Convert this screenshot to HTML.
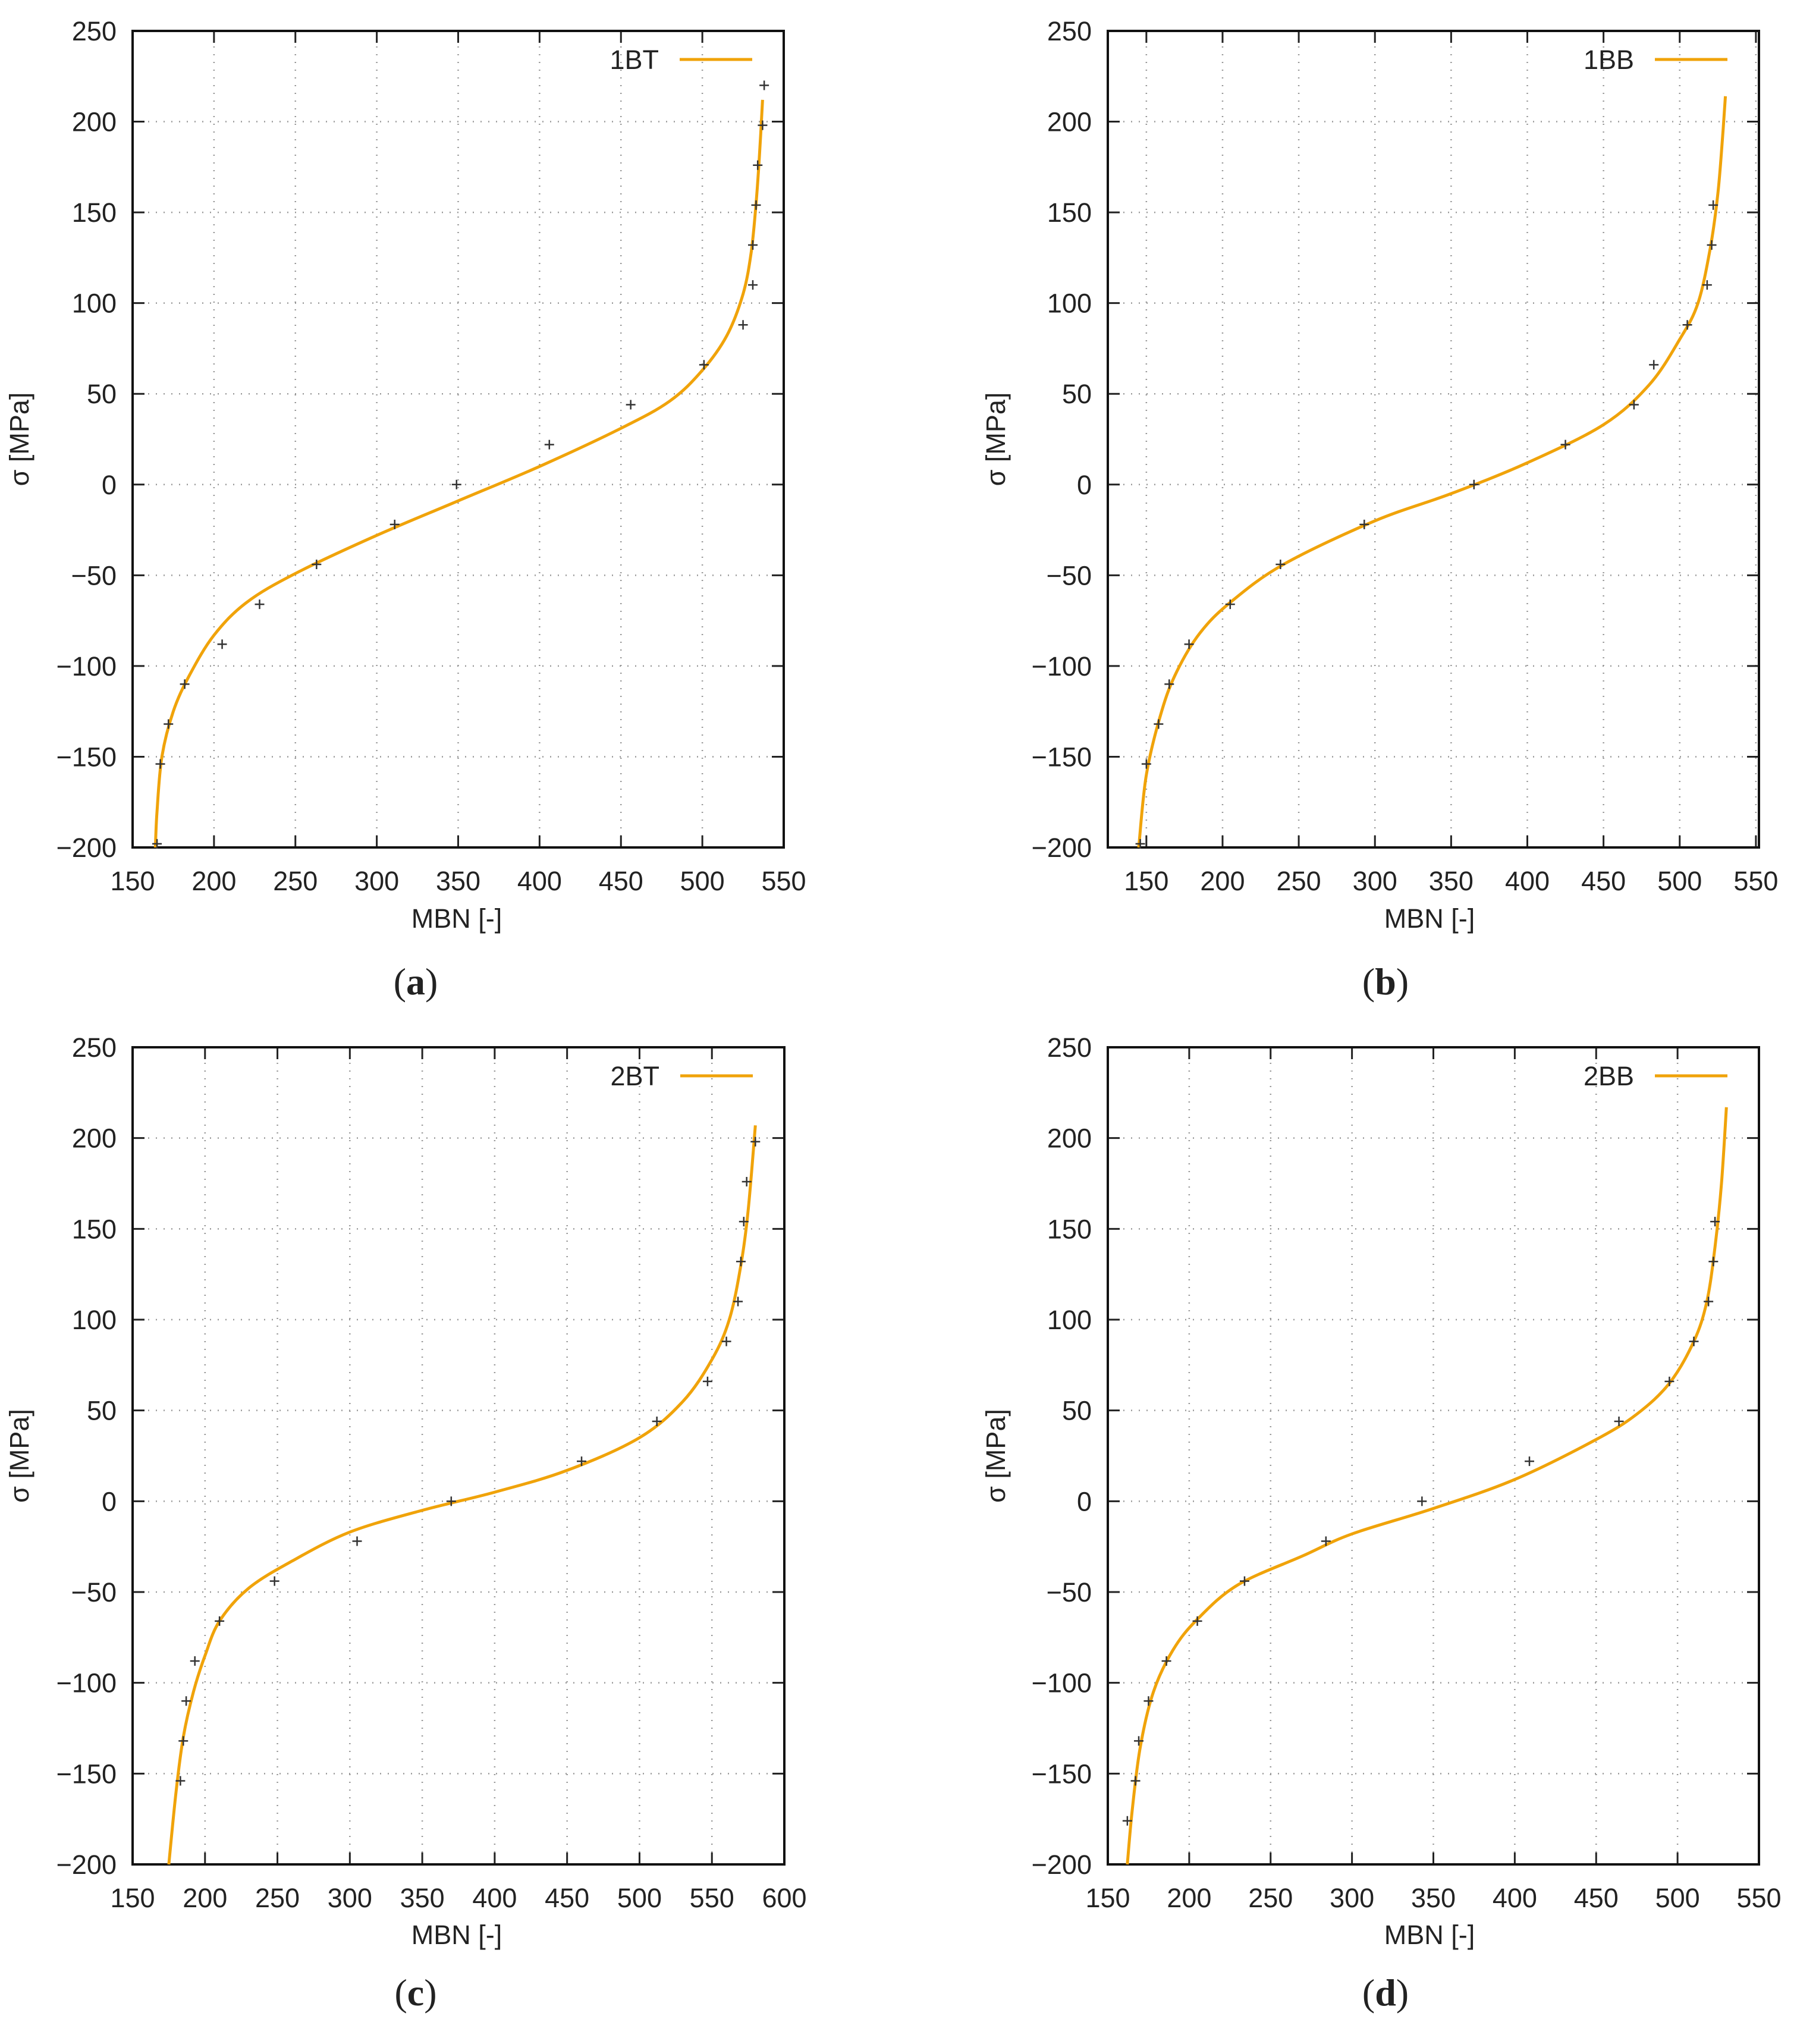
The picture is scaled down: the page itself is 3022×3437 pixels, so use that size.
<!DOCTYPE html>
<html><head><meta charset="utf-8">
<style>
html,body{margin:0;padding:0;background:#fff;}
svg{display:block;}
text{font-family:"Liberation Sans",sans-serif;fill:#222;}
</style></head>
<body>
<svg id="fig" width="3022" height="3437" viewBox="0 0 3022 3437" xmlns="http://www.w3.org/2000/svg"></svg>
<script>
const yTicks=[-200,-150,-100,-50,0,50,100,150,200,250];
const xTicksA=[150,200,250,300,350,400,450,500,550];
const xTicksB=[150,200,250,300,350,400,450,500,550];
const xTicksC=[150,200,250,300,350,400,450,500,550,600];
const xTicksD=[150,200,250,300,350,400,450,500,550];
const legendNames=["1BT","1BB","2BT","2BB"];
const panelLetters=["a","b","c","d"];

const ptsAx=[165,167,172,182,205,228,263,311,349,406,456,501,525,531,531,533,534,537,538];
const ptsAy=[-198,-154,-132,-110,-88,-66,-44,-22,0,22,44,66,88,110,132,154,176,198,220];
const fitAx=[164,165,168,175,185,200,220,250,300,350,400,450,480,500,515,525,530,533,535,537];
const fitAy=[-200,-180,-150,-125,-105,-83,-65,-49,-28,-9,10,31,46,63,82,105,128,155,180,212];

const ptsBx=[146,150,158,165,178,205,238,293,365,425,470,483,505,518,521,522];
const ptsBy=[-198,-154,-132,-110,-88,-66,-44,-22,0,22,44,66,88,110,132,154];
const fitBx=[145,150,160,170,185,205,240,300,350,400,450,480,500,512,520,525,528,530];
const fitBy=[-200,-160,-125,-103,-82,-65,-44,-20,-5,12,33,55,80,100,130,160,190,214];

const ptsCx=[183,185,187,193,210,248,305,370,460,512,547,560,568,570,572,574,580];
const ptsCy=[-154,-132,-110,-88,-66,-44,-22,0,22,44,66,88,110,132,154,176,198];
const fitCx=[175,180,185,192,200,210,230,260,300,350,400,450,500,530,550,562,570,575,580];
const fitCy=[-200,-160,-130,-105,-85,-66,-48,-33,-17,-5,5,17,35,55,78,100,130,160,207];

const ptsDx=[162,167,169,175,186,205,234,284,343,409,464,495,510,519,522,523];
const ptsDy=[-176,-154,-132,-110,-88,-66,-44,-22,0,22,44,66,88,110,132,154];
const fitDx=[162,165,170,178,190,205,230,270,300,350,400,450,475,495,510,518,523,527,530];
const fitDy=[-200,-170,-135,-105,-82,-65,-46,-30,-18,-4,12,34,48,65,88,110,140,175,217];

const NS="http://www.w3.org/2000/svg";
const svg=document.getElementById('fig');
function mk(tag,attrs,parent){const e=document.createElementNS(NS,tag);for(const k in attrs)e.setAttribute(k,attrs[k]);(parent||svg).appendChild(e);return e;}
function smoothPath(P){
 let d='M'+P[0][0].toFixed(1)+','+P[0][1].toFixed(1);
 for(let i=0;i<P.length-1;i++){
  const p0=P[Math.max(0,i-1)],p1=P[i],p2=P[i+1],p3=P[Math.min(P.length-1,i+2)];
  const c1x=p1[0]+(p2[0]-p0[0])/6,c1y=p1[1]+(p2[1]-p0[1])/6;
  const c2x=p2[0]-(p3[0]-p1[0])/6,c2y=p2[1]-(p3[1]-p1[1])/6;
  d+=`C${c1x.toFixed(1)},${c1y.toFixed(1)} ${c2x.toFixed(1)},${c2y.toFixed(1)} ${p2[0].toFixed(1)},${p2[1].toFixed(1)}`;
 }
 return d;
}

const panels=[
 {L:223,R:1318,T:52,B:1425,xmin:150,xmax:550,xt:xTicksA,px:ptsAx,py:ptsAy,fx:fitAx,fy:fitAy,ylx:48,capx:699,capy:1672,xlx:768,xly:1560},
 {L:1863,R:2958,T:52,B:1425,xmin:124.7,xmax:552,xt:xTicksB,px:ptsBx,py:ptsBy,fx:fitBx,fy:fitBy,ylx:1690,capx:2330,capy:1672,xlx:2404,xly:1560},
 {L:223,R:1319,T:1761,B:3135,xmin:150,xmax:600,xt:xTicksC,px:ptsCx,py:ptsCy,fx:fitCx,fy:fitCy,ylx:48,capx:699,capy:3372,xlx:768,xly:3269},
 {L:1863,R:2958,T:1761,B:3135,xmin:150,xmax:550,xt:xTicksD,px:ptsDx,py:ptsDy,fx:fitDx,fy:fitDy,ylx:1690,capx:2330,capy:3372,xlx:2404,xly:3269}
];

panels.forEach((p,i)=>{
 const g=mk('g',{});
 
 
 const X=v=>p.L+(v-p.xmin)/(p.xmax-p.xmin)*(p.R-p.L);
 const Y=v=>p.B-(v+200)/450*(p.B-p.T);
 p.xt.forEach(t=>{const x=X(t);if(x>p.L+3&&x<p.R-3){
   const l=mk('line',{x1:x,x2:x,y1:p.T,y2:p.B,stroke:'#999','stroke-width':2.5,'stroke-dasharray':'2 11'},g);
   
   mk('line',{x1:x,x2:x,y1:p.B,y2:p.B-20,stroke:'#222','stroke-width':3},g);
   mk('line',{x1:x,x2:x,y1:p.T,y2:p.T+20,stroke:'#222','stroke-width':3},g);}
   const tx=mk('text',{x:x,y:p.B+72,'font-size':45,'text-anchor':'middle'},g);tx.textContent=t;
   
 });
 yTicks.forEach(t=>{const y=Y(t);if(y>p.T+3&&y<p.B-3){
   const l=mk('line',{x1:p.L,x2:p.R,y1:y,y2:y,stroke:'#999','stroke-width':2.5,'stroke-dasharray':'2 11'},g);
   
   mk('line',{x1:p.L,x2:p.L+20,y1:y,y2:y,stroke:'#222','stroke-width':3},g);
   mk('line',{x1:p.R,x2:p.R-20,y1:y,y2:y,stroke:'#222','stroke-width':3},g);}
   const ty=mk('text',{x:p.L-27,y:y+16,'font-size':45,'text-anchor':'end'},g);ty.textContent=(t<0?'\u2212'+(-t):t);
   
 });
 const fr=mk('rect',{x:p.L,y:p.T,width:p.R-p.L,height:p.B-p.T,fill:'none',stroke:'#111','stroke-width':4},g);
 
 const P=p.fx.map((v,k)=>[X(v),Y(p.fy[k])]);
 const c=mk('path',{d:smoothPath(P),fill:'none',stroke:'#f0a30a','stroke-width':5,'stroke-linejoin':'round'},g);
 
 p.px.forEach((v,k)=>{const x=X(v),y=Y(p.py[k]);
   const m=mk('path',{d:`M${x-8},${y}H${x+8}M${x},${y-8}V${y+8}`,stroke:'#333','stroke-width':2.5},g);
   });
 const ly=p.T+48;
 const lt=mk('text',{x:p.R-210,y:ly+16,'font-size':45,'text-anchor':'end'},g);lt.textContent=legendNames[i];
 
 const ll=mk('line',{x1:p.R-175,x2:p.R-53,y1:ly,y2:ly,stroke:'#f0a30a','stroke-width':5},g);
 
 const xl=mk('text',{x:p.xlx,y:p.xly,'font-size':45,'text-anchor':'middle'},g);xl.textContent='MBN [-]';
 
 const cy=(p.T+p.B)/2;
 const yl=mk('text',{x:p.ylx,y:cy,'font-size':45,'text-anchor':'middle',transform:`rotate(-90 ${p.ylx} ${cy})`},g);yl.textContent='\u03c3 [MPa]';
 
 const cap=mk('text',{x:p.capx,y:p.capy,'font-size':64,'text-anchor':'middle',style:'font-family:"Liberation Serif",serif'},g);
 cap.innerHTML='(<tspan font-weight="bold">'+panelLetters[i]+'</tspan>)';
 
});
</script>
</body></html>
